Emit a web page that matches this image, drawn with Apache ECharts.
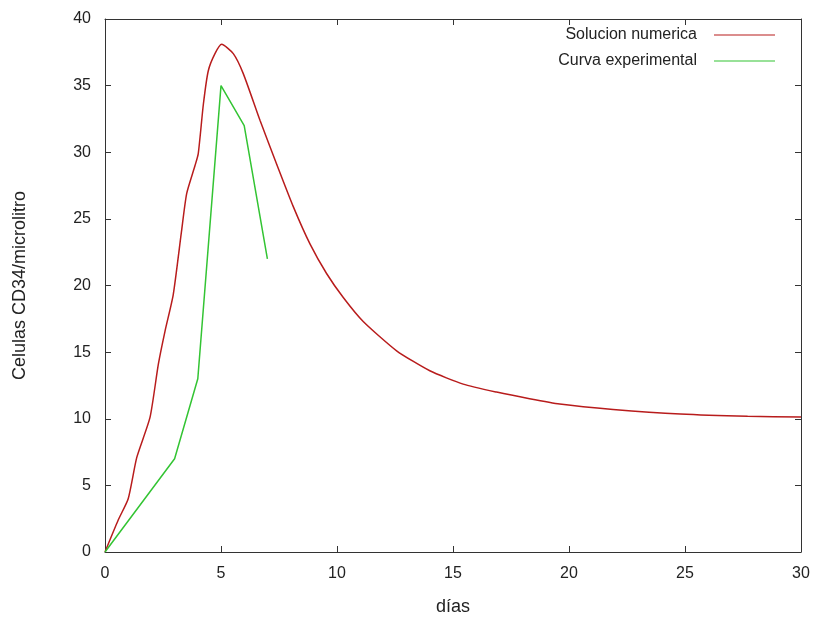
<!DOCTYPE html>
<html><head><meta charset="utf-8">
<script src="https://cdn.jsdelivr.net/npm/echarts@6/dist/echarts.min.js"></script>
<style>html,body{margin:0;padding:0;background:#fff}#c{width:814px;height:623px}</style>
</head><body><div id="c"></div>
<script>
const seriesNames = ["Solucion numerica", "Curva experimental"];
const numX = [0, 0.57, 1.0, 1.37, 1.94, 2.3, 2.59, 2.94, 3.3, 3.52, 3.88, 4.02, 4.24, 4.45, 4.74, 5.03, 5.53, 5.96, 6.68, 7.4, 8.12, 8.84, 9.55, 10.27, 11.13, 12.57, 14.0, 15.44, 16.88, 18.3, 19.6, 21.9, 24.8, 27.7, 30];
const numY = [0, 2.4, 4.0, 7.1, 10.1, 14.1, 16.6, 19.3, 24.1, 26.9, 29.0, 29.9, 33.6, 36.1, 37.4, 38.1, 37.4, 35.9, 32.4, 29.1, 25.9, 23.1, 20.9, 19.1, 17.3, 15.1, 13.6, 12.6, 12.0, 11.5, 11.1, 10.7, 10.35, 10.18, 10.13];
const expX = [0, 3, 4, 5, 6, 7];
const expY = [0, 7, 13, 35, 32, 22];
const xTicks = [0, 5, 10, 15, 20, 25, 30];
const yTicks = [0, 5, 10, 15, 20, 25, 30, 35, 40];

const font = "Liberation Sans";
const chart = echarts.init(document.getElementById('c'));
const axCommon = {
  axisLine: {show: true, onZero: false, lineStyle: {color: '#333', width: 1}},
  axisTick: {show: true, inside: true, length: 6, lineStyle: {color: '#333'}},
  splitLine: {show: false}
};
chart.setOption({
  animation: false,
  backgroundColor: '#fff',
  grid: {left: 105, right: 13, top: 19, bottom: 71, containLabel: false},
  legend: {
    orient: 'vertical', right: 34, top: 22, align: 'right',
    itemWidth: 61, itemHeight: 14, itemGap: 10,
    icon: 'path://M0,7 L61,7 L61,8 L0,8 Z',
    textStyle: {fontFamily: font, fontSize: 16, color: '#222', padding: [0, 12, 0, 0]},
    data: seriesNames
  },
  xAxis: [
    Object.assign({type: 'value', min: 0, max: 30, interval: 5, position: 'bottom',
      name: 'días', nameLocation: 'middle', nameGap: 46,
      nameTextStyle: {fontFamily: font, fontSize: 18, color: '#222'},
      axisLabel: {fontFamily: font, fontSize: 16, color: '#222', margin: 14,
        formatter: v => xTicks.includes(v) ? String(v) : ''}}, axCommon),
    Object.assign({type: 'value', min: 0, max: 30, interval: 5, position: 'top',
      axisLabel: {show: false}}, axCommon)
  ],
  yAxis: [
    Object.assign({type: 'value', min: 0, max: 40, interval: 5, position: 'left',
      name: 'Celulas CD34/microlitro', nameLocation: 'middle', nameGap: 76, nameRotate: 90,
      nameTextStyle: {fontFamily: font, fontSize: 18, color: '#222'},
      axisLabel: {fontFamily: font, fontSize: 16, color: '#222', margin: 14,
        formatter: v => yTicks.includes(v) ? String(v) : ''}}, axCommon),
    Object.assign({type: 'value', min: 0, max: 40, interval: 5, position: 'right',
      axisLabel: {show: false}}, axCommon)
  ],
  series: [
    {name: seriesNames[0], type: 'line', showSymbol: false, smooth: 0.2,
      lineStyle: {color: '#b81c1c', width: 1.5}, itemStyle: {color: '#b81c1c'},
      data: numX.map((x, i) => [x, numY[i]])},
    {name: seriesNames[1], type: 'line', showSymbol: false,
      lineStyle: {color: '#33c433', width: 1.5}, itemStyle: {color: '#33c433'},
      data: expX.map((x, i) => [x, expY[i]])}
  ]
});
</script></body></html>
